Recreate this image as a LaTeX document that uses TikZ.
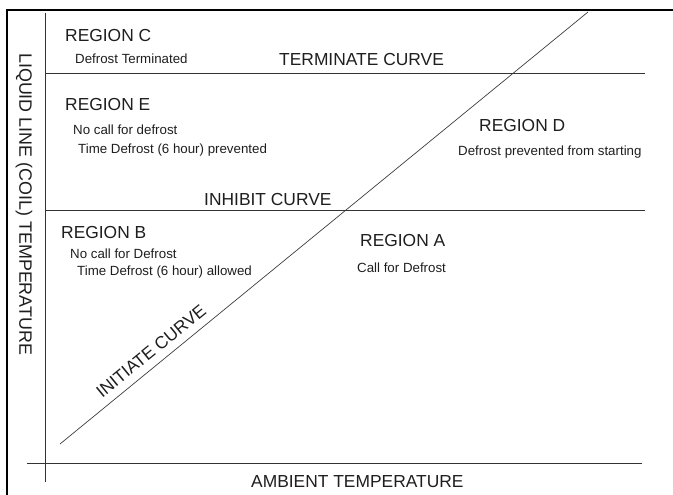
\documentclass[tikz,border=0pt]{standalone}
\usepackage{fontspec}
\setmainfont{Liberation Sans}
\definecolor{ink}{HTML}{1E1E1E}
\definecolor{linec}{HTML}{333333}
\begin{document}
\begin{tikzpicture}[x=1pt,y=-1pt,
  big/.style={anchor=base west,inner sep=0pt,text=ink,font=\fontsize{17.4}{20}\selectfont},
  small/.style={anchor=base west,inner sep=0pt,text=ink,font=\fontsize{13.3}{16}\selectfont},
  frameline/.style={line width=2.2pt,black},
  axisline/.style={line width=0.8pt,linec},
  curveline/.style={line width=0.8pt,linec},
  diagline/.style={line width=0.65pt,linec}]
\useasboundingbox (0,0) rectangle (673,495);
% frame (top and left only)
\coordinate (fbl) at (7,495);
\coordinate (ftl) at (7,9.7);
\coordinate (ftr) at (673,9.7);
\draw[frameline] (fbl) -- (ftl) -- (ftr);
% axes
\coordinate (yaxT) at (45,13);
\coordinate (yaxB) at (45,482);
\coordinate (xaxL) at (27,463);
\coordinate (xaxR) at (642,463);
\draw[axisline] (yaxT) -- (yaxB);
\draw[axisline] (xaxL) -- (xaxR);
% horizontal curves
\coordinate (termL) at (45,73.5);
\coordinate (termR) at (645,73.5);
\coordinate (inhL) at (45,210.5);
\coordinate (inhR) at (645,210.5);
\draw[curveline] (termL) -- (termR);
\draw[curveline] (inhL) -- (inhR);
% initiate (diagonal)
\coordinate (diagA) at (60,444);
\coordinate (diagB) at (588,12);
\draw[diagline] (diagA) -- (diagB);
% labels
\node[big] (rc) at (65,41.5) {REGION C};
\node[small] (rcd) at (75,64) {Defrost Terminated};
\node[big] (term) at (279,66) {TERMINATE CURVE};
\node[big] (re) at (65,110.5) {REGION E};
\node[small] (re1) at (73,135) {No call for defrost};
\node[small] (re2) at (78,153.5) {Time Defrost (6 hour) prevented};
\node[big] (inh) at (204,205) {INHIBIT CURVE};
\node[big] (rd) at (479,131.5) {REGION D};
\node[small] (rd1) at (458,156) {Defrost prevented from starting};
\node[big] (rb) at (61,238) {REGION B};
\node[small] (rb1) at (70,258) {No call for Defrost};
\node[small] (rb2) at (77,275) {Time Defrost (6 hour) allowed};
\node[big] (ra) at (360,246) {REGION A};
\node[small] (ra1) at (357,272.5) {Call for Defrost};
\node[big,anchor=center,rotate=39.3] (init) at (151,351) {INITIATE CURVE};
\node[big] (amb) at (251,487) {AMBIENT TEMPERATURE};
\node[big,rotate=-90,font=\fontsize{17.9}{20}\selectfont] (liq) at (19.5,53) {LIQUID LINE (COIL) TEMPERATURE};
\end{tikzpicture}
\end{document}
